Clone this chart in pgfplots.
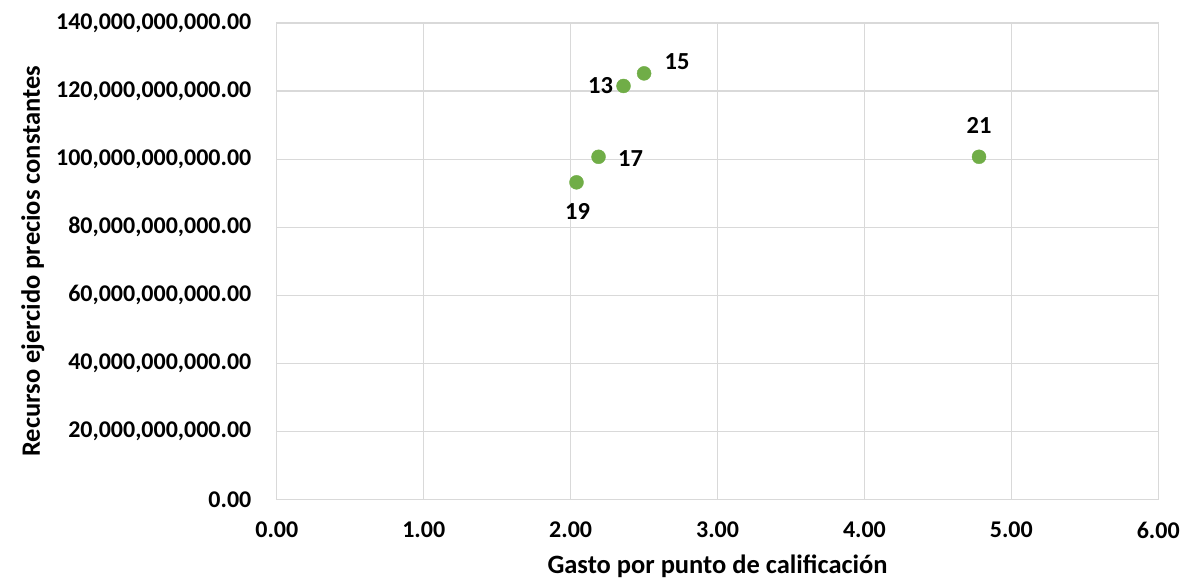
\documentclass[border=0pt]{standalone}
\usepackage{fontspec}
\setmainfont{Carlito}
\usepackage{pgfplots}
\usepackage{pgfplotstable}
\pgfplotsset{compat=1.18}
\definecolor{ptgreen}{HTML}{70AD47}
\definecolor{gridgray}{HTML}{D9D9D9}

\pgfplotstableread{
x     y        lab  dx  dy
2.04  93.2e9   19   1   -29
2.19  100.7e9  17   32  -2
2.36  121.5e9  13   -23 0
2.50  125.2e9  15   33  12
4.78  100.7e9  21   0   31
}\datatable

\begin{document}
\begin{tikzpicture}
\begin{axis}[
    scale only axis,
    width=882bp, height=477bp,
    xmin=0, xmax=6,
    ymin=0, ymax=140e9,
    xtick={0,1,...,6},
    ytick={0,20e9,40e9,60e9,80e9,100e9,120e9,140e9},
    scaled y ticks=false,
    scaled x ticks=false,
    xticklabel style={/pgf/number format/fixed, /pgf/number format/fixed zerofill,
        /pgf/number format/precision=2, /pgf/number format/assume math mode=true,
        yshift=-19bp},
    yticklabel style={/pgf/number format/fixed, /pgf/number format/fixed zerofill,
        /pgf/number format/precision=2, /pgf/number format/1000 sep={,},
        /pgf/number format/assume math mode=true, xshift=-22bp},
    tick label style={font=\fontsize{24bp}{26bp}\selectfont\bfseries},
    label style={font=\fontsize{26.5bp}{28bp}\selectfont\bfseries},
    xlabel={Gasto por punto de calificación},
    ylabel={Recurso ejercido precios constantes},
    xlabel style={at={(rel axis cs:0.5,0)}, anchor=base, yshift=-74bp},
    ylabel style={at={(rel axis cs:0,0.5)}, anchor=base, yshift=237bp},
    major tick length=0pt,
    grid=major,
    grid style={gridgray, line width=1.2bp},
    axis line style={gridgray, line width=1.2bp},
    clip=false,
]
\addplot[
    only marks,
    color=ptgreen,
    mark=*,
    mark size=7bp,
    mark options={fill=ptgreen, draw=ptgreen},
    point meta=explicit symbolic,
    visualization depends on={\thisrow{dx} \as \dxv},
    visualization depends on={\thisrow{dy} \as \dyv},
    nodes near coords,
    nodes near coords style={anchor=center, xshift=\dxv bp, yshift=\dyv bp,
        font=\fontsize{24.5bp}{26bp}\selectfont\bfseries, text=black},
] table[x=x, y=y, meta=lab] {\datatable};
\path (rel axis cs:0,0) ++(-277bp,-82bp) coordinate (bbl);
\path (rel axis cs:1,1) ++(24bp,23bp) coordinate (bbr);
\end{axis}
\useasboundingbox (bbl) rectangle (bbr);
\end{tikzpicture}
\end{document}
